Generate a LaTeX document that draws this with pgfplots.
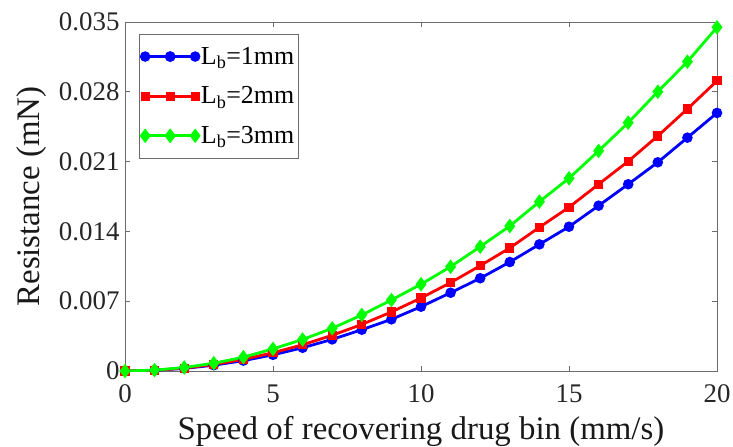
\documentclass[border=0pt]{standalone}
\usepackage{pgfplots}
\pgfplotsset{compat=1.18}
\usepackage{fontspec}
\setmainfont{Liberation Serif}
\definecolor{mblue}{RGB}{0,0,255}
\definecolor{mred}{RGB}{255,0,0}
\definecolor{mgreen}{RGB}{0,255,0}
\begin{document}
\begin{tikzpicture}
\useasboundingbox (-125bp,-76bp) rectangle (608bp,371bp);
\begin{axis}[
  scale only axis,
  width=592bp, height=349bp,
  xmin=0, xmax=20, ymin=0, ymax=0.035,
  xtick={0,5,10,15,20}, xticklabels={\textrm{0},\textrm{5},\textrm{10},\textrm{15},\textrm{20}},
  ytick={0,0.007,0.014,0.021,0.028,0.035},
  yticklabels={\textrm{0},\textrm{0.007},\textrm{0.014},\textrm{0.021},\textrm{0.028},\textrm{0.035}},
  /pgf/number format/assume math mode=true,
  scaled y ticks=false,
  tick align=inside,
  tick pos=both,
  major tick length=5bp,
  axis line style={gray!85!black, line width=0.8bp},
  every tick/.style={gray!85!black, line width=0.8bp},
  tick label style={font=\fontsize{27}{32}\selectfont, text=black!85},
  xticklabel style={yshift=-10bp},
  yticklabel style={xshift=-2bp},
  xlabel={Speed of recovering drug bin (mm/s)},
  ylabel={Resistance (mN)},
  label style={font=\fontsize{33}{38}\selectfont, text=black!90},
  xlabel style={yshift=-7bp},
  ylabel style={yshift=6bp},
  legend style={at={(axis description cs:0.0236,0.966)}, anchor=north west,
    draw=gray!85!black, line width=0.8bp, font=\fontsize{26}{30}\selectfont,
    inner xsep=2bp, inner ysep=11bp, row sep=17bp},
  legend cell align=left,
  legend image code/.code={\draw[#1] plot coordinates {(0bp,0bp) (25bp,0bp) (50bp,0bp)};
    \draw[#1, mark repeat=1] plot coordinates {(25bp,0bp)};},
]
\addplot[mblue, line width=2.8bp, mark=*, mark size=3.8bp, mark options={fill=mblue}] coordinates {
(0,0) (1,0.00006) (2,0.00026) (3,0.00058) (4,0.00104) (5,0.00162) (6,0.00233) (7,0.00317) (8,0.00414) (9,0.00518) (10,0.00645) (11,0.00785) (12,0.0093) (13,0.01093) (14,0.0127) (15,0.01447) (16,0.01658) (17,0.01873) (18,0.02093) (19,0.0234) (20,0.02588)};
\addlegendentry{L\textsubscript{b}=1mm}
\addplot[mred, line width=2.8bp, mark=square*, mark size=3.2bp, mark options={fill=mred}] coordinates {
(0,0) (1,0.00007) (2,0.00029) (3,0.00066) (4,0.00117) (5,0.00183) (6,0.00263) (7,0.00358) (8,0.00467) (9,0.00592) (10,0.00732) (11,0.00886) (12,0.01056) (13,0.01234) (14,0.01441) (15,0.01642) (16,0.01873) (17,0.02103) (18,0.02357) (19,0.02628) (20,0.0291)};
\addlegendentry{L\textsubscript{b}=2mm}
\addplot[mgreen, line width=2.8bp, mark=diamond*, mark size=5bp, mark options={fill=mgreen}] coordinates {
(0,0) (1,0.00009) (2,0.00035) (3,0.00078) (4,0.00138) (5,0.00222) (6,0.00316) (7,0.00428) (8,0.00562) (9,0.00712) (10,0.0087) (11,0.01046) (12,0.01247) (13,0.01454) (14,0.01698) (15,0.01933) (16,0.02207) (17,0.0249) (18,0.02801) (19,0.03102) (20,0.03447)};
\addlegendentry{L\textsubscript{b}=3mm}
\end{axis}
\end{tikzpicture}
\end{document}
